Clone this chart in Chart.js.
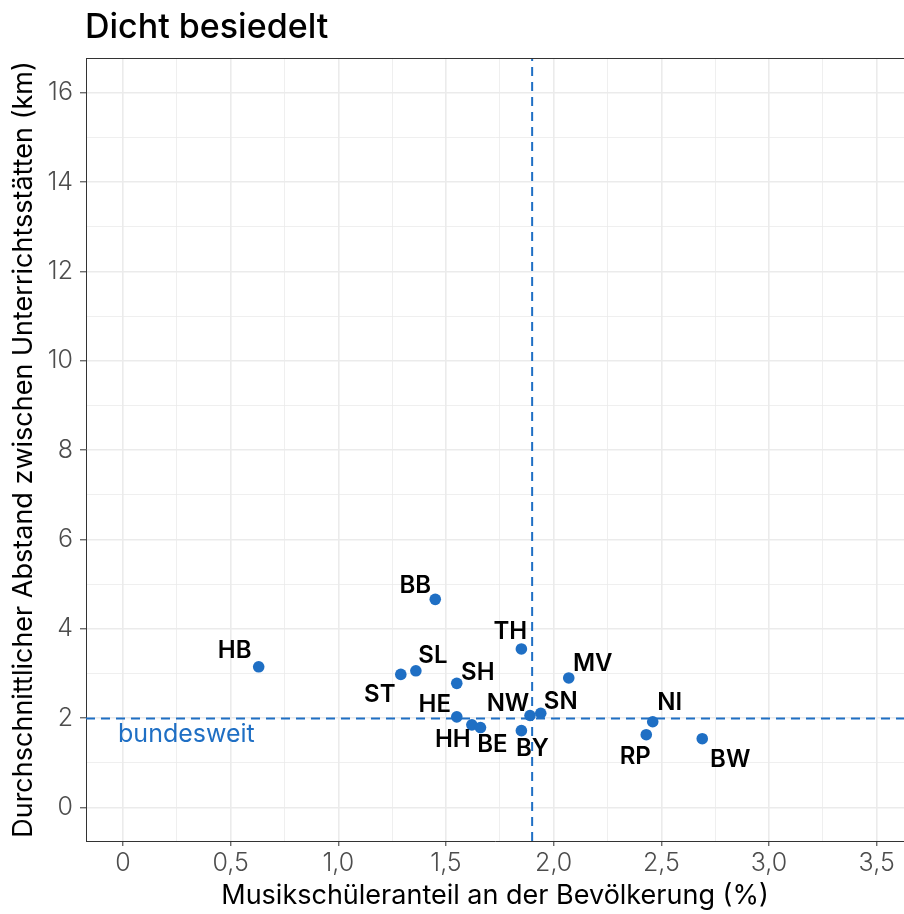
<!DOCTYPE html>
<html>
<head>
<meta charset="utf-8">
<script src="https://cdn.jsdelivr.net/npm/chart.js@4.4.1/dist/chart.umd.min.js"></script>
<style>
  html, body { margin: 0; padding: 0; background: #fff; }
  #wrap { width: 904px; height: 914px; }
</style>
</head>
<body>
<div id="wrap"><canvas id="myChart"></canvas></div>
<script>
// ------------------ DATA ------------------ //
const states = ["HB", "BB", "SL", "ST", "SH", "TH", "MV", "HE", "HH", "BE", "BY", "NW", "SN", "NI", "RP", "BW"];
const shareValues = [0.63, 1.45, 1.36, 1.29, 1.55, 1.85, 2.07, 1.55, 1.62, 1.66, 1.85, 1.89, 1.94, 2.46, 2.43, 2.69];
const distanceValues = [3.15, 4.66, 3.06, 2.98, 2.78, 3.55, 2.90, 2.03, 1.85, 1.79, 1.72, 2.06, 2.11, 1.92, 1.63, 1.54];
const xTickValues = [0, 0.5, 1, 1.5, 2, 2.5, 3, 3.5];
const yTickValues = [0, 2, 4, 6, 8, 10, 12, 14, 16];
const nationalShare = 1.90;
const nationalDistance = 1.99;

// axis limits
const xMin = -0.172, xMax = 3.627;
const yMin = -0.75, yMax = 16.78;

// label nudges in pixels (like ggrepel placed them)
const labelOffsets = {
  HB: [-24, -16], BB: [-20, -14], SL: [17, -15], ST: [-21, 20], SH: [21, -11],
  TH: [-11, -17], MV: [24, -14], HE: [-22, -12], HH: [-19, 15], BE: [12, 17],
  BY: [11, 18], NW: [-22, -12], SN: [20, -11], NI: [17, -19], RP: [-11, 22], BW: [28, 21]
};

const blue = "#1f6fc4";
const fontFamily = "Inter, 'Noto Sans', sans-serif";

// major + minor ticks (minor halfway between majors)
function withMinor(major, min, max) {
  const step = major[1] - major[0];
  const all = [];
  major.forEach(v => {
    all.push(v);
    if (v + step / 2 <= max) all.push(v + step / 2);
  });
  if (major[0] - step / 2 >= min) all.unshift(major[0] - step / 2);
  return all;
}
const xAllTicks = withMinor(xTickValues, xMin, xMax);
const yAllTicks = withMinor(yTickValues, yMin, yMax);

function fmtX(v) {
  return v === 0 ? "0" : v.toFixed(1).replace(".", ",");
}

// ------------------ PLUGINS ------------------ //
const extras = {
  id: "extras",
  afterDraw(chart) {
    const c = chart.ctx;
    const area = chart.chartArea;
    const xs = chart.scales.x, ys = chart.scales.y;
    c.save();
    // top frame line
    c.strokeStyle = "#333";
    c.lineWidth = 1;
    c.beginPath();
    c.moveTo(area.left, area.top + 0.5);
    c.lineTo(area.right, area.top + 0.5);
    c.stroke();

    // title
    c.fillStyle = "#000";
    c.font = "500 34px " + fontFamily;
    c.textAlign = "left";
    c.textBaseline = "alphabetic";
    c.fillText("Dicht besiedelt", 85, 38);

    // bundesweit
    c.fillStyle = blue;
    c.font = "400 25px " + fontFamily;
    c.textBaseline = "middle";
    c.fillText("bundesweit", xs.getPixelForValue(0) - 5, ys.getPixelForValue(nationalDistance) + 16);

    // state labels
    const meta = chart.getDatasetMeta(0);
    c.fillStyle = "#000";
    c.font = "600 24px " + fontFamily;
    c.textAlign = "center";
    meta.data.forEach((pt, i) => {
      const off = labelOffsets[states[i]] || [0, -14];
      c.fillText(states[i], pt.x + off[0], pt.y + off[1]);
    });
    c.restore();
  }
};

// ------------------ CHART ------------------ //
const ctx = document.getElementById("myChart").getContext("2d");
const chart = new Chart(ctx, {
  type: "scatter",
  data: {
    datasets: [
      {
        label: "Länder",
        data: states.map((s, i) => ({ x: shareValues[i], y: distanceValues[i] })),
        backgroundColor: blue,
        borderColor: blue,
        pointRadius: 5.8,
        pointBorderWidth: 0
      },
      {
        label: "bundesweit x",
        data: [{ x: nationalShare, y: yMin }, { x: nationalShare, y: yMax }],
        showLine: true,
        borderColor: blue,
        borderWidth: 2,
        borderDash: [9, 6],
        pointRadius: 0
      },
      {
        label: "bundesweit y",
        data: [{ x: xMin, y: nationalDistance }, { x: xMax, y: nationalDistance }],
        showLine: true,
        borderColor: blue,
        borderWidth: 2,
        borderDash: [9, 6],
        pointRadius: 0
      }
    ]
  },
  options: {
    responsive: true,
    maintainAspectRatio: false,
    animation: false,
    layout: { autoPadding: false, padding: { top: 58, right: 0, left: 0, bottom: 0 } },
    plugins: {
      legend: { display: false },
      tooltip: { enabled: false }
    },
    scales: {
      x: {
        type: "linear",
        min: xMin,
        max: xMax,
        afterBuildTicks: scale => { scale.ticks = xAllTicks.map(v => ({ value: v })); },
        afterFit: scale => { scale.height = 73; },
        border: { display: true, color: "#333", width: 1 },
        grid: {
          color: "#ebebeb",
          lineWidth: c => (c.tick && xTickValues.includes(c.tick.value) ? 1.6 : 0.8),
          tickColor: c => (c.tick && xTickValues.includes(c.tick.value) ? "#333" : "rgba(0,0,0,0)"),
          tickWidth: 1,
          tickLength: 5
        },
        ticks: {
          autoSkip: false,
          maxRotation: 0,
          padding: 2,
          color: "#4d4d4d",
          font: { family: fontFamily, size: 25, weight: 300 },
          callback: v => (xTickValues.includes(v) ? fmtX(v) : "")
        },
        title: {
          display: true,
          text: "Musikschüleranteil an der Bevölkerung (%)",
          color: "#000",
          font: { family: fontFamily, size: 27 },
          padding: { top: 0, bottom: 2 }
        }
      },
      y: {
        type: "linear",
        min: yMin,
        max: yMax,
        afterBuildTicks: scale => { scale.ticks = yAllTicks.map(v => ({ value: v })); },
        afterFit: scale => { scale.width = 86; },
        border: { display: true, color: "#333", width: 1 },
        grid: {
          color: "#ebebeb",
          lineWidth: c => (c.tick && yTickValues.includes(c.tick.value) ? 1.6 : 0.8),
          tickColor: c => (c.tick && yTickValues.includes(c.tick.value) ? "#333" : "rgba(0,0,0,0)"),
          tickWidth: 1,
          tickLength: 6
        },
        ticks: {
          autoSkip: false,
          padding: 7,
          color: "#4d4d4d",
          font: { family: fontFamily, size: 25, weight: 300 },
          callback: v => (yTickValues.includes(v) ? String(v) : "")
        },
        title: {
          display: true,
          text: "Durchschnittlicher Abstand zwischen Unterrichtsstätten (km)",
          color: "#000",
          font: { family: fontFamily, size: 27 },
          padding: { top: 8, bottom: 0 }
        }
      }
    }
  },
  plugins: [extras]
});
</script>
</body>
</html>
